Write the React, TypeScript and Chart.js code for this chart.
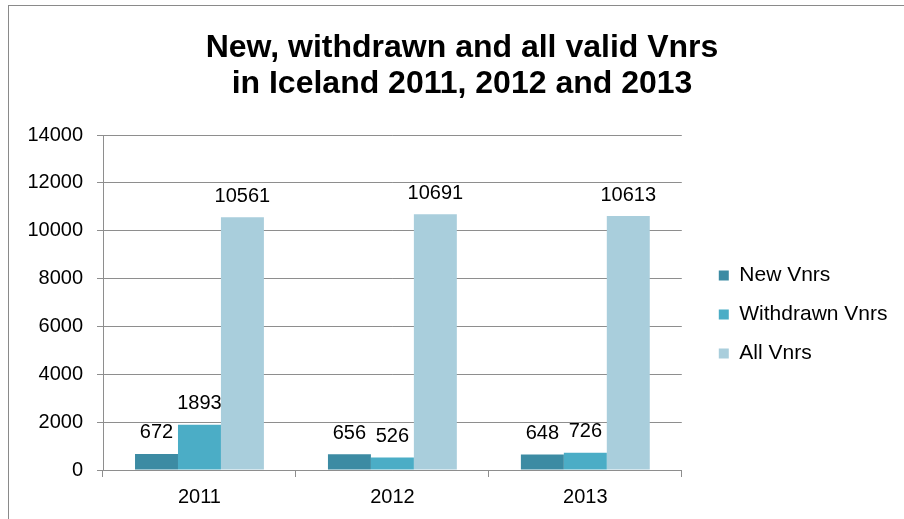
import React, { useEffect, useRef } from "react";
import { Chart, registerables } from "chart.js";

Chart.register(...registerables);

const categories = ["2011", "2012", "2013"];
const newVnrs = [672, 656, 648];
const withdrawnVnrs = [1893, 526, 726];
const allVnrs = [10561, 10691, 10613];
const seriesNames = ["New Vnrs", "Withdrawn Vnrs", "All Vnrs"];
const seriesColors = ["#3C8BA3", "#4BADC6", "#A9CEDC"];
const titleLines = ["New, withdrawn and all valid Vnrs", "in Iceland 2011, 2012 and 2013"];
const yMin = 0;
const yMax = 14000;
const yStep = 2000;

const FONT = "'Liberation Sans', Arial, sans-serif";
const GRID = "#8E8E8E";

const dataLabels = {
  id: "dataLabels",
  afterDatasetsDraw(chart: any) {
    const ctx = chart.ctx;
    ctx.save();
    ctx.font = `20px ${FONT}`;
    ctx.fillStyle = "#000";
    ctx.textAlign = "center";
    ctx.textBaseline = "alphabetic";
    chart.data.datasets.forEach((ds: any, i: number) => {
      const meta = chart.getDatasetMeta(i);
      meta.data.forEach((el: any, j: number) => {
        ctx.fillText(String(ds.data[j]), el.x, el.y - 15.5);
      });
    });
    ctx.restore();
  },
};

// widen the legend box on its right side so it sits further from the canvas edge
const legendSpacer = {
  id: "legendSpacer",
  beforeLayout(chart: any) {
    const lg = chart.legend;
    if (lg && !lg.__patched) {
      const orig = lg.fit.bind(lg);
      lg.fit = function () {
        orig();
        this.width += 17.5;
      };
      lg.__patched = true;
    }
  },
};

export default function App() {
  const ref = useRef<HTMLCanvasElement>(null);
  useEffect(() => {
    if (!ref.current) return;
    const values = [newVnrs, withdrawnVnrs, allVnrs];
    const chart = new Chart(ref.current, {
      type: "bar",
      data: {
        labels: categories,
        datasets: values.map((d, i) => ({
          label: seriesNames[i],
          data: d,
          backgroundColor: seriesColors[i],
          borderWidth: 0,
          categoryPercentage: 0.668,
          barPercentage: 1.0,
        })),
      },
      options: {
        responsive: false,
        animation: false,
        layout: { padding: 0 },
        plugins: {
          tooltip: { enabled: false },
          title: {
            display: true,
            text: titleLines,
            color: "#000",
            font: { family: FONT, size: 32, weight: "bold", lineHeight: 36 / 32 },
            padding: { top: 24, bottom: 33 },
          },
          legend: {
            display: true,
            position: "right",
            fullSize: false,
            align: "center",
            maxWidth: 400,
            title: { display: true, text: " ", padding: 0, font: { family: FONT, size: 20 } },
            labels: {
              color: "#000",
              font: { family: FONT, size: 21 },
              boxWidth: 10,
              boxHeight: 10,
              padding: 18,
            },
          },
        },
        scales: {
          x: {
            grid: {
              offset: true,
              drawOnChartArea: false,
              drawTicks: true,
              tickLength: 7,
              color: GRID,
            },
            border: { display: true, color: GRID },
            ticks: { color: "#000", font: { family: FONT, size: 20 }, padding: 8 },
            afterFit: (s: any) => {
              s.height = 49;
            },
          },
          y: {
            min: yMin,
            max: yMax,
            ticks: {
              stepSize: yStep,
              color: "#000",
              font: { family: FONT, size: 20 },
              padding: 14,
              callback: (v: any) => String(v),
            },
            grid: { color: GRID, tickLength: 6 },
            border: { display: true, color: GRID },
            afterFit: (s: any) => {
              s.width = 94;
            },
          },
          y2: {
            type: "linear",
            position: "right",
            display: true,
            grid: { display: false },
            ticks: { display: false },
            border: { display: false },
            afterFit: (s: any) => {
              s.width = 19;
            },
          },
        },
      },
      plugins: [legendSpacer, dataLabels],
    } as any);
    return () => chart.destroy();
  }, []);

  return (
    <div style={{ position: "fixed", left: 0, top: 0, width: 904, height: 519, overflow: "hidden", background: "#fff" }}>
      <div
        style={{
          position: "absolute",
          left: 8,
          top: 5,
          width: 960,
          height: 600,
          borderLeft: "1px solid #8A8A8A",
          borderTop: "1px solid #8A8A8A",
        }}
      />
      <canvas
        ref={ref}
        width={906}
        height={513}
        style={{ position: "absolute", left: 9, top: 6, width: 906, height: 513 }}
      />
    </div>
  );
}
